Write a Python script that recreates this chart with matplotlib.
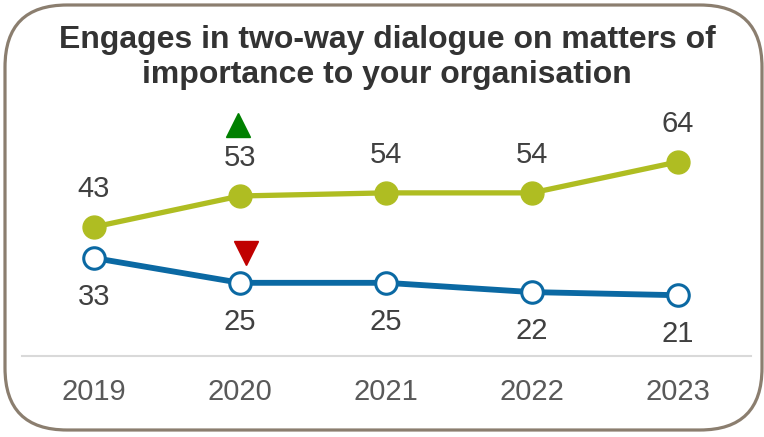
import matplotlib.pyplot as plt
from matplotlib.patches import FancyBboxPatch
from matplotlib.transforms import offset_copy

plt.rcParams['font.family'] = ['Liberation Sans', 'DejaVu Sans']

years = ['2019', '2020', '2021', '2022', '2023']
engaged = [43, 53, 54, 54, 64]
comparison = [33, 25, 25, 22, 21]
# significant change markers: (year index, series)
up_flags = [(1, 'engaged')]
down_flags = [(1, 'comparison')]

green = '#afbd22'
blue = '#0b69a3'

fig = plt.figure(figsize=(7.64, 4.37), dpi=100)

# rounded frame drawn in pixel units on a full-figure background axes
bg = fig.add_axes([0, 0, 1, 1], zorder=0)
bg.set_xlim(0, 764)
bg.set_ylim(437, 0)
bg.axis('off')
frame = FancyBboxPatch((5, 5), 757, 425, boxstyle='round,pad=0,rounding_size=62',
                       facecolor='white', edgecolor='#8b7e6f', linewidth=2.3)
bg.add_patch(frame)

bg.text(387, 48, 'Engages in two-way dialogue on matters of', ha='center', va='baseline',
        fontsize=23, fontweight='bold', color='#333333')
bg.text(387, 83, 'importance to your organisation', ha='center', va='baseline',
        fontsize=23, fontweight='bold', color='#333333')

ax = fig.add_axes([22 / 764, 1 - 356 / 437, 729 / 764, 236 / 437], zorder=1)
ax.patch.set_alpha(0)
x = list(range(len(years)))
ax.set_xlim(-0.493, 4.5)
ax.set_ylim(1.4, 77.5)

ax.plot(x, engaged, color=green, linewidth=3.8, marker='o', markersize=16.5,
        markerfacecolor=green, markeredgecolor=green, zorder=3)
ax.plot(x, comparison, color=blue, linewidth=4.2, marker='o', markersize=15.5,
        markerfacecolor='white', markeredgecolor=blue, markeredgewidth=2.2, zorder=3)

for xi, v in zip(x, engaged):
    ax.annotate(str(v), (xi, v), xytext=(0, 27), textcoords='offset points',
                ha='center', va='center', fontsize=21, color='#404040')
for xi, v in zip(x, comparison):
    ax.annotate(str(v), (xi, v), xytext=(0, -28), textcoords='offset points',
                ha='center', va='center', fontsize=21, color='#404040')

series = {'engaged': engaged, 'comparison': comparison}
for i, name in up_flags:
    tr = offset_copy(ax.transData, fig=fig, x=-1.5, y=51, units='points')
    ax.plot(i, series[name][i], marker='^', markersize=17, color='#008000',
            transform=tr, linestyle='none', clip_on=False)
for i, name in down_flags:
    tr = offset_copy(ax.transData, fig=fig, x=4, y=21.5, units='points')
    ax.plot(i, series[name][i], marker='v', markersize=17, color='#c00000',
            transform=tr, linestyle='none', clip_on=False)

for s in ['top', 'right', 'left']:
    ax.spines[s].set_visible(False)
ax.spines['bottom'].set_color('#d9d9d9')
ax.spines['bottom'].set_linewidth(1.5)
ax.set_yticks([])
ax.set_xticks(x)
ax.set_xticklabels(years, fontsize=21, color='#595959')
ax.tick_params(axis='x', length=0, pad=16)

fig.savefig('out.png', dpi=100)
